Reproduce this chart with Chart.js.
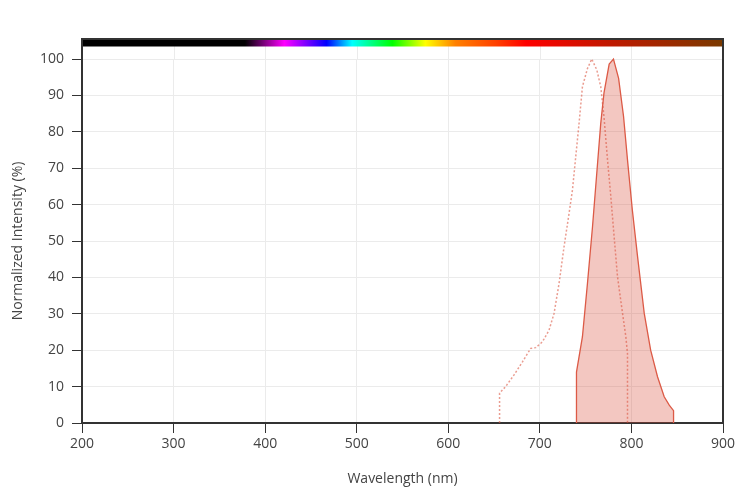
<!DOCTYPE html>
<html>
<head>
<meta charset="utf-8">
<script src="https://cdn.jsdelivr.net/npm/chart.js@4/dist/chart.umd.min.js"></script>
<style>
  html, body { margin: 0; padding: 0; background: #fff; }
  #wrap { width: 751px; height: 499px; }
</style>
</head>
<body>
<div id="wrap"><canvas id="myChart" width="751" height="499"></canvas></div>
<script>
'use strict';

// excitation (dotted) and emission (filled) spectra
let exWave = [656, 656, 662.6, 671.8, 681, 690, 695.5, 702.8, 710, 715.5, 721, 726.4, 731.9, 735.6, 739.2, 742.8, 746.5, 752, 756.7, 762.2, 766.5, 770, 773.9, 777.5, 781.1, 784.8, 790.3, 793.9, 795.7, 795.7];
let exValue = [0, 8.2, 10, 13.2, 16.8, 20.5, 20.7, 22.3, 25.5, 30.1, 38.4, 48.4, 57.6, 64, 73.2, 82.3, 92.4, 97.4, 100, 97, 92.4, 84.2, 72.3, 62.2, 51.2, 40.2, 30.1, 23.7, 19.1, 0];

let emWave = [740, 740, 746.5, 752, 757.5, 763, 766.5, 770, 775.7, 780.4, 786, 791.4, 795.7, 801, 806.7, 814, 821, 828.5, 835.8, 841.3, 846, 846];
let emValue = [0, 14, 23.7, 38.4, 53.9, 71.3, 82.3, 90.6, 98.6, 100, 94.7, 84.2, 72.3, 58.5, 45.7, 30.1, 20, 12.7, 7.2, 4.9, 3.4, 0];

// colour bar along the top
let barWave = [200, 378, 421, 467, 495, 539, 575, 608, 652, 685, 776, 900];
let barColor = ['#000000', '#000000', '#ff00ff', '#0000ff', '#00ffff', '#00ff00', '#ffff00', '#ff8000', '#ff4000', '#ff0000', '#c01800', '#7a3a00'];

let xTicks = [200, 300, 400, 500, 600, 700, 800, 900];
let yTicks = [0, 10, 20, 30, 40, 50, 60, 70, 80, 90, 100];

function toPoints(xs, ys) {
    let pts = [];
    for (let i = 0; i < xs.length; i++) {
        pts.push({ x: xs[i], y: ys[i] });
    }
    return pts;
}

// spectrum strip above the plot plus the frame lines round it
let spectrumBar = {
    id: 'spectrumBar',
    beforeDatasetsDraw(chart) {
        // carry the vertical grid up to the strip
        let ctx = chart.ctx;
        let area = chart.chartArea;
        let xs = chart.scales.x;
        ctx.save();
        ctx.strokeStyle = '#ebebeb';
        ctx.lineWidth = 1;
        ctx.beginPath();
        for (let i = 1; i < xTicks.length - 1; i++) {
            let px = Math.round(xs.getPixelForValue(xTicks[i])) + 0.5;
            ctx.moveTo(px, area.top - 13);
            ctx.lineTo(px, area.top);
        }
        ctx.stroke();
        ctx.restore();
    },
    afterDraw(chart) {
        let ctx = chart.ctx;
        let area = chart.chartArea;
        let xs = chart.scales.x;
        let top = area.top - 20;
        let h = 7.5;
        let grad = ctx.createLinearGradient(area.left, 0, area.right, 0);
        for (let i = 0; i < barWave.length; i++) {
            let px = xs.getPixelForValue(barWave[i]);
            grad.addColorStop((px - area.left) / (area.right - area.left), barColor[i]);
        }
        ctx.save();
        ctx.fillStyle = grad;
        ctx.fillRect(area.left, top, area.right - area.left, h);
        ctx.strokeStyle = '#333';
        ctx.lineWidth = 2;
        ctx.beginPath();
        ctx.moveTo(area.left, area.top);
        ctx.lineTo(area.left, top);
        ctx.lineTo(area.right, top);
        ctx.lineTo(area.right, area.bottom);
        ctx.stroke();
        ctx.restore();
    }
};

Chart.defaults.font.family = '"Open Sans", sans-serif';
Chart.defaults.color = '#444';

let ctx = document.getElementById('myChart').getContext('2d');
let myChart = new Chart(ctx, {
    type: 'scatter',
    data: {
        datasets: [{
            label: 'Emission',
            data: toPoints(emWave, emValue),
            showLine: true,
            fill: 'origin',
            backgroundColor: 'rgba(214, 69, 50, 0.3)',
            borderColor: 'rgb(220, 90, 70)',
            borderWidth: 1.3,
            pointRadius: 0,
            tension: 0,
            clip: 6
        }, {
            label: 'Excitation',
            data: toPoints(exWave, exValue),
            showLine: true,
            fill: false,
            borderColor: 'rgba(220, 90, 70, 0.6)',
            borderWidth: 1.5,
            borderDash: [2, 2],
            pointRadius: 0,
            tension: 0,
            clip: 6
        }]
    },
    options: {
        responsive: false,
        animation: false,
        layout: { padding: { left: 0, top: 59, right: 28, bottom: 0 } },
        plugins: { legend: { display: false }, tooltip: { enabled: false } },
        scales: {
            x: {
                type: 'linear',
                min: 200,
                max: 900,
                afterBuildTicks: function (scale) {
                    scale.ticks = xTicks.map(v => ({ value: v }));
                },
                afterFit: function (scale) { scale.height = 76; },
                ticks: { font: { size: 14 }, padding: 3, color: '#444', maxRotation: 0 },
                grid: { color: '#ebebeb', tickColor: '#333', tickLength: 10, lineWidth: 1 },
                border: { color: '#333', width: 2 },
                title: { display: true, text: 'Wavelength (nm)', font: { size: 14 }, color: '#444', padding: { top: 0, bottom: 12 } }
            },
            y: {
                min: 0,
                max: 100,
                afterBuildTicks: function (scale) {
                    scale.ticks = yTicks.map(v => ({ value: v }));
                },
                afterFit: function (scale) { scale.width = 82; },
                ticks: { font: { size: 14 }, padding: 8, color: '#444' },
                grid: { color: '#ebebeb', tickColor: '#333', tickLength: 10, lineWidth: 1 },
                border: { color: '#333', width: 2 },
                title: { display: true, text: 'Normalized Intensity (%)', font: { size: 14 }, color: '#444', padding: { top: 10, bottom: 0 } }
            }
        }
    },
    plugins: [spectrumBar]
});
</script>
</body>
</html>
